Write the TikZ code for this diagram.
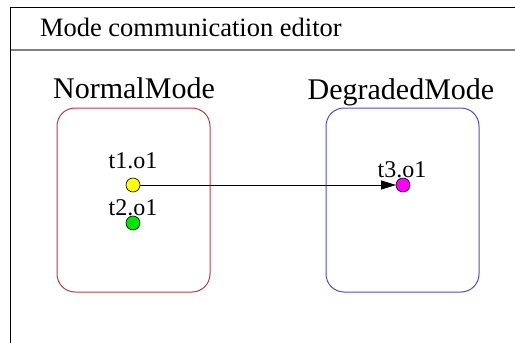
\documentclass[tikz,border=0pt]{standalone}
\usepackage{fontspec}
\setmainfont{Liberation Serif}
\usetikzlibrary{arrows.meta,positioning}
\definecolor{normalred}{RGB}{176,64,64}
\definecolor{degradedblue}{RGB}{80,80,192}
\definecolor{sepgray}{RGB}{128,128,128}
\definecolor{portyellow}{RGB}{255,255,0}
\definecolor{portgreen}{RGB}{0,230,0}
\definecolor{portmagenta}{RGB}{255,0,255}

\begin{document}
\begin{tikzpicture}[x=1pt,y=-1pt,
  every node/.style={inner sep=0pt,outer sep=0pt},
  modebox/.style={draw,rounded corners=18pt,line width=1pt,minimum width=153pt,minimum height=184pt},
  port/.style={circle,draw=black,line width=.6pt,minimum size=14pt},
  portlabel/.style={font=\fontsize{24}{24}\selectfont,anchor=base},
  modelabel/.style={font=\fontsize{30}{30}\selectfont,anchor=base}]
\useasboundingbox (0,0) rectangle (515,343);
% editor frame
\draw[line width=1pt] (10.5,343) -- (10.5,7.5) -- (515,7.5);
\draw[sepgray,line width=2pt] (10.5,50) -- (515,50);
\node[anchor=base west,font=\fontsize{26.5}{26.5}\selectfont] (title) at (40,36) {Mode communication editor};
% modes
\node[modebox,draw=normalred] (normal) at (133.5,200) {};
\node[modebox,draw=degradedblue] (degraded) at (402.5,200) {};
\node[modelabel] (normallbl) at (134,98) {NormalMode};
\node[modelabel] (degradedlbl) at (401,99) {DegradedMode};
% ports
\node[port,fill=portyellow] (t1) at (133,185) {};
\node[port,fill=portgreen] (t2) at (133,223) {};
\node[port,fill=portmagenta] (t3) at (403,185) {};
\node[portlabel] (t1lbl) at (133,168) {t1.o1};
\node[portlabel] (t2lbl) at (133,215) {t2.o1};
\node[portlabel] (t3lbl) at (402,177) {t3.o1};
\draw[line width=.8pt,-{Triangle[length=15pt,width=9pt]}] (t1) -- (t3);
\end{tikzpicture}
\end{document}
